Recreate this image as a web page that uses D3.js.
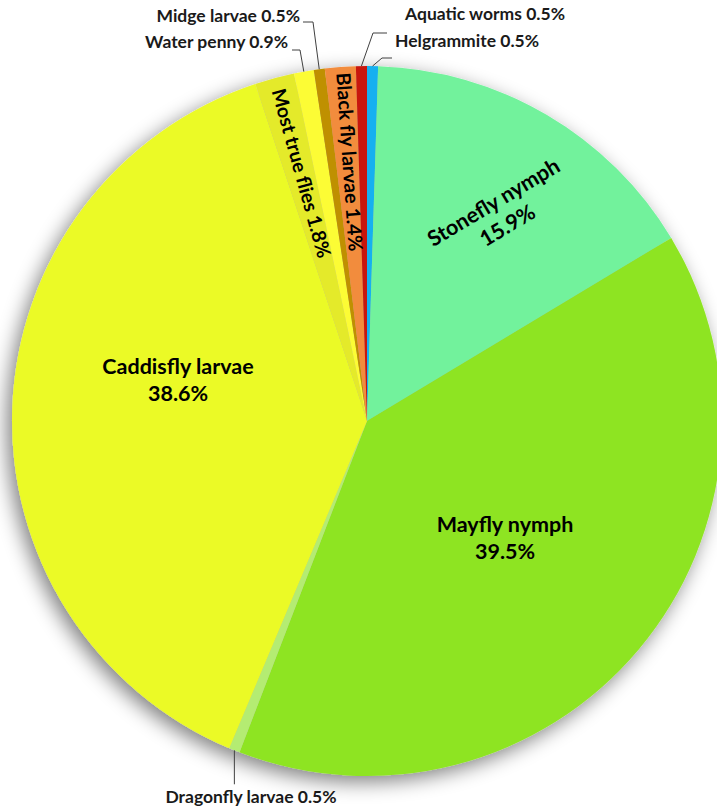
<!DOCTYPE html>
<html><head><meta charset="utf-8">
<script src="https://cdn.jsdelivr.net/npm/d3@7"></script>
<style>html,body{margin:0;padding:0;background:#fff;} svg{display:block;}</style>
</head><body>
<svg id="chart" width="717" height="812"></svg>
<script>
// ---- data (clockwise from 12 o'clock) ----
const categories = ["Helgrammite","Stonefly nymph","Mayfly nymph","Dragonfly larvae","Caddisfly larvae","Most true flies","Water penny","Midge larvae","Black fly larvae","Aquatic worms"];
const values = [0.5, 15.9, 39.5, 0.5, 38.6, 1.8, 0.9, 0.5, 1.4, 0.5];
const colors = ["#12B0F0","#72F29C","#8EE422","#B4EC72","#EBFA28","#E4EA2C","#FCFC34","#BF9000","#F28C3C","#C8190E"];

// ---- layout ----
const W = 717, H = 812;
const cx = 367, cy = 421, R = 355;
const FONT = "Lato, 'Open Sans', sans-serif";

const svg = d3.select("#chart");
const defs = svg.append("defs");
const f = defs.append("filter").attr("id","shadow").attr("x","-20%").attr("y","-20%").attr("width","140%").attr("height","140%");
f.append("feGaussianBlur").attr("in","SourceAlpha").attr("stdDeviation",10).attr("result","b");
f.append("feOffset").attr("in","b").attr("dx",-5).attr("dy",6).attr("result","o");
f.append("feComponentTransfer").attr("in","o").attr("result","s").append("feFuncA").attr("type","linear").attr("slope",0.5);
const mg = f.append("feMerge"); mg.append("feMergeNode").attr("in","s"); mg.append("feMergeNode").attr("in","SourceGraphic");

const data = categories.map((c,i)=>({name:c, value:values[i], color:colors[i]}));
const pie = d3.pie().value(d=>d.value).sort(null).startAngle(0).endAngle(2*Math.PI);
const arcs = pie(data);
const arc = d3.arc().innerRadius(0).outerRadius(R);

const g = svg.append("g").attr("transform",`translate(${cx},${cy})`);
g.append("g").attr("filter","url(#shadow)")
  .selectAll("path").data(arcs).join("path")
  .attr("d", arc).attr("fill", d=>d.data.color);

const pct = v => v.toFixed(1) + "%";
const pointOnArc = (a, r) => { const m = (a.startAngle + a.endAngle)/2; return [r*Math.sin(m), -r*Math.cos(m)]; };

// inside labels (two lines)
const inner = [
  {name:"Stonefly nymph", dx:133, dy:-208, rot:-31, size:21.5},
  {name:"Mayfly nymph", dx:138, dy:116, rot:0, size:21.5},
  {name:"Caddisfly larvae", dx:-189, dy:-42, rot:0, size:21.5}
];
inner.forEach(l=>{
  const a = arcs.find(d=>d.data.name===l.name);
  const t = g.append("text").attr("transform",`translate(${l.dx},${l.dy}) rotate(${l.rot})`)
    .attr("text-anchor","middle").attr("font-family",FONT).attr("font-weight","bold")
    .attr("font-size",l.size).attr("fill","#000");
  t.append("tspan").attr("x",0).attr("y",-13).attr("dominant-baseline","central").text(l.name);
  t.append("tspan").attr("x",0).attr("y",14).attr("dominant-baseline","central").text(pct(a.data.value));
});

// rotated single-line labels
const radial = [
  {name:"Most true flies", dx:-65, dy:-248, rot:74.5, size:19.5},
  {name:"Black fly larvae", dx:-17, dy:-259, rot:86, size:19.5}
];
radial.forEach(l=>{
  const a = arcs.find(d=>d.data.name===l.name);
  g.append("text").attr("transform",`translate(${l.dx},${l.dy}) rotate(${l.rot})`)
    .attr("text-anchor","middle").attr("dominant-baseline","central")
    .attr("font-family",FONT).attr("font-weight","bold").attr("font-size",l.size).attr("fill","#000")
    .text(`${l.name} ${pct(a.data.value)}`);
});

// outside labels with leader lines (positions in page coords)
const outer = [
  {name:"Midge larvae", x:300, y:22, anchor:"end", elbow:[313,22], end:[303,22]},
  {name:"Water penny", x:288, y:48, anchor:"end", elbow:[300,50], end:[292,50]},
  {name:"Aquatic worms", x:405, y:20, anchor:"start", elbow:[373,33], end:[387,33]},
  {name:"Helgrammite", x:395, y:47, anchor:"start", elbow:[382,58], end:[392,58]},
  {name:"Dragonfly larvae", x:251, y:803, anchor:"middle", elbow:null, end:null}
];
const outerG = svg.append("g");
outer.forEach(l=>{
  const a = arcs.find(d=>d.data.name===l.name);
  const p = pointOnArc(a, R);
  const s = [cx+p[0], cy+p[1]];
  let pts;
  if (l.elbow) pts = [s, l.elbow, l.end];
  else pts = [s, [s[0], s[1]+34]];
  outerG.append("path").attr("d", d3.line()(pts)).attr("fill","none").attr("stroke","#404040").attr("stroke-width",1);
  outerG.append("text").attr("x",l.x).attr("y",l.y).attr("text-anchor",l.anchor)
    .attr("font-family",FONT).attr("font-weight","bold").attr("font-size",17.5).attr("fill","#1a1a1a")
    .text(`${l.name} ${pct(a.data.value)}`);
});
</script>
</body></html>
